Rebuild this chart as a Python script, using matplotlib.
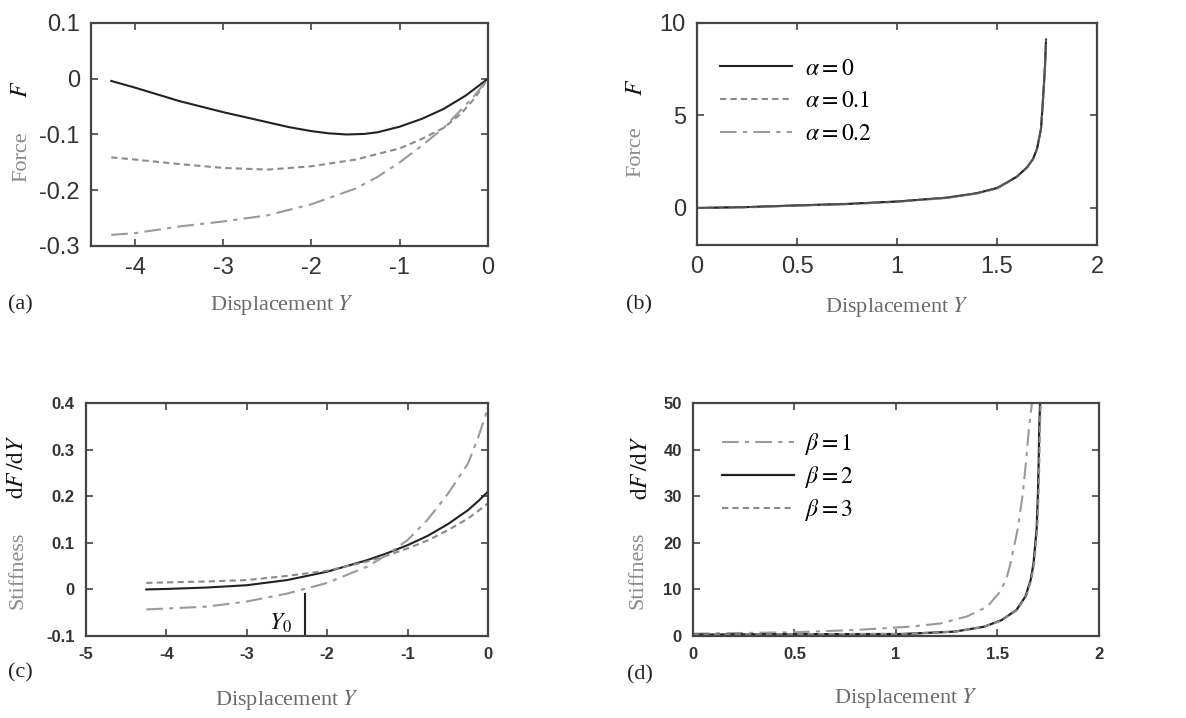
import matplotlib
matplotlib.use("Agg")
import matplotlib.pyplot as plt

plt.rcParams['font.family'] = ['Liberation Sans', 'DejaVu Sans']
plt.rcParams['mathtext.fontset'] = 'stix'

# ---- data ----
# (a) force vs displacement, alpha = 0, 0.1, 0.2
a_x0 = [-4.27, -4.0, -3.5, -3.0, -2.5, -2.25, -2.0, -1.8, -1.6, -1.4, -1.25, -1.0, -0.75, -0.5, -0.25, 0.0]
a_y0 = [-0.004, -0.016, -0.04, -0.06, -0.078, -0.087, -0.094, -0.098, -0.1, -0.099, -0.096, -0.086, -0.072, -0.054, -0.03, 0.0]
a_x1 = [-4.27, -4.0, -3.5, -3.0, -2.5, -2.0, -1.5, -1.0, -0.75, -0.5, -0.3, -0.15, 0.0]
a_y1 = [-0.141, -0.145, -0.153, -0.16, -0.163, -0.157, -0.145, -0.125, -0.108, -0.088, -0.062, -0.035, 0.0]
a_x2 = [-4.27, -4.0, -3.5, -3.0, -2.5, -2.0, -1.5, -1.25, -1.0, -0.75, -0.5, -0.3, -0.15, 0.0]
a_y2 = [-0.28, -0.277, -0.265, -0.256, -0.245, -0.225, -0.197, -0.176, -0.15, -0.12, -0.088, -0.055, -0.03, 0.0]

# (b) force, curves overlap
b_x = [0.0, 0.25, 0.5, 0.75, 1.0, 1.25, 1.4, 1.5, 1.55, 1.6, 1.65, 1.68, 1.7, 1.72, 1.73, 1.74, 1.745]
b_y0 = [0.0, 0.05, 0.14, 0.22, 0.35, 0.56, 0.8, 1.08, 1.38, 1.7, 2.2, 2.65, 3.2, 4.3, 5.9, 7.7, 9.1]
b_y1 = [0.0, 0.04, 0.13, 0.21, 0.34, 0.55, 0.79, 1.07, 1.37, 1.69, 2.19, 2.64, 3.2, 4.3, 5.9, 7.7, 9.1]
b_y2 = [0.0, 0.03, 0.12, 0.2, 0.33, 0.54, 0.78, 1.06, 1.36, 1.68, 2.18, 2.63, 3.2, 4.3, 5.9, 7.7, 9.1]

# (c) stiffness, same three curves
c_x = [-4.25, -4.0, -3.5, -3.0, -2.5, -2.0, -1.5, -1.25, -1.0, -0.75, -0.5, -0.25, -0.125, 0.0]
c_y0 = [0.0, 0.001, 0.004, 0.009, 0.02, 0.038, 0.063, 0.078, 0.095, 0.115, 0.14, 0.17, 0.189, 0.21]
c_y1 = [0.014, 0.015, 0.017, 0.02, 0.029, 0.04, 0.06, 0.073, 0.088, 0.105, 0.127, 0.152, 0.168, 0.185]
c_y2 = [-0.043, -0.041, -0.037, -0.026, -0.009, 0.014, 0.049, 0.075, 0.106, 0.15, 0.205, 0.27, 0.325, 0.39]
y0_pos = -2.28
y0_top = -0.009

# (d) stiffness, beta = 1, 2, 3
d_x1 = [0.0, 0.5, 0.8, 1.07, 1.22, 1.35, 1.45, 1.507, 1.543, 1.565, 1.6, 1.623, 1.64, 1.655, 1.67]
d_y1 = [0.5, 0.8, 1.3, 2.0, 2.7, 4.2, 6.3, 9.2, 12.1, 15.7, 23.0, 30.0, 37.0, 44.6, 50.0]
d_x2 = [0.0, 0.5, 1.03, 1.29, 1.435, 1.52, 1.594, 1.638, 1.664, 1.678, 1.693, 1.699, 1.703, 1.706, 1.71]
d_y2 = [0.3, 0.4, 0.43, 0.94, 2.0, 3.4, 5.6, 8.5, 12.1, 15.7, 23.0, 30.0, 37.0, 44.6, 50.0]
d_x3 = [0.0, 0.5, 1.03, 1.29, 1.437, 1.523, 1.597, 1.641, 1.667, 1.681, 1.696, 1.702, 1.706, 1.709, 1.713]
d_y3 = [0.3, 0.4, 0.43, 0.94, 2.0, 3.4, 5.6, 8.5, 12.1, 15.7, 23.0, 30.0, 37.0, 44.6, 50.0]

BLACK = '#222222'
GRAY1 = '#8a8a8a'
GRAY2 = '#9a9a9a'
SERIF = 'Liberation Serif'


def style_axes(ax, tick_size, bold=False):
    ax.tick_params(direction='in', top=True, right=True, length=5, width=1.2,
                   labelsize=tick_size, colors='#444444', pad=8)
    for lab in ax.get_xticklabels() + ax.get_yticklabels():
        lab.set_fontweight('bold' if bold else 'normal')
        lab.set_color('#333333')
    for s in ax.spines.values():
        s.set_linewidth(1.6)
        s.set_color('#444444')


def labels(ax, word, sym, wx, wy, sx, sy, xlx, xly):
    ax.text(wx, wy, word, transform=ax.transAxes, rotation=90, ha='center', va='center',
            fontsize=16, family=SERIF, color='#8a8a8a')
    ax.text(sx, sy, sym, transform=ax.transAxes, rotation=90, ha='center', va='center',
            fontsize=17, family=SERIF, color='#111111')
    ax.text(xlx, xly, 'Displacement $Y$', transform=ax.transAxes, ha='center', va='center',
            fontsize=16, family=SERIF, color='#6a6a6a')


fig = plt.figure(figsize=(11.86, 7.18), dpi=100)

# (a)
ax = fig.add_axes([0.0767, 0.6574, 0.3347, 0.3106])
ax.plot(a_x0, a_y0, color=BLACK, lw=1.5, ls='-')
ax.plot(a_x1, a_y1, color=GRAY1, lw=1.5, ls=(0, (3, 2)))
ax.plot(a_x2, a_y2, color=GRAY2, lw=1.5, ls=(0, (8, 3, 2, 3)))
ax.set_xlim(-4.5, 0)
ax.set_ylim(-0.3, 0.1)
ax.set_xticks([-4, -3, -2, -1, 0])
ax.set_yticks([-0.3, -0.2, -0.1, 0, 0.1])
ax.set_yticklabels(['-0.3', '-0.2', '-0.1', '0', '0.1'])
ax.set_xticklabels(['-4', '-3', '-2', '-1', '0'])
style_axes(ax, 17)
labels(ax, 'Force', '$F$', -0.174, 0.40, -0.174, 0.70, 0.48, -0.265)

# (b)
ax = fig.add_axes([0.5877, 0.6588, 0.3373, 0.3092])
ax.plot(b_x, b_y0, color=BLACK, lw=1.5, ls='-', label=r'$\alpha = 0$')
ax.plot(b_x, b_y1, color=GRAY1, lw=1.5, ls=(0, (3, 2)), label=r'$\alpha = 0.1$')
ax.plot(b_x, b_y2, color=GRAY2, lw=1.5, ls=(0, (8, 3, 2, 3)), label=r'$\alpha = 0.2$')
ax.plot(b_x, b_y0, color=BLACK, lw=1.3, ls='-', alpha=0.6)
ax.set_xlim(0, 2)
ax.set_ylim(-2, 10)
ax.set_xticks([0, 0.5, 1, 1.5, 2])
ax.set_xticklabels(['0', '0.5', '1', '1.5', '2'])
ax.set_yticks([0, 5, 10])
style_axes(ax, 17)
ax.legend(loc='upper left', bbox_to_anchor=(0.005, 0.94), frameon=False, fontsize=17,
          handlelength=3.05, handletextpad=0.55, labelspacing=0.45)
labels(ax, 'Force', '$F$', -0.152, 0.42, -0.152, 0.71, 0.50, -0.28)

# (c)
ax = fig.add_axes([0.0725, 0.1142, 0.339, 0.3245])
ax.plot(c_x, c_y0, color=BLACK, lw=1.5, ls='-')
ax.plot(c_x, c_y1, color=GRAY1, lw=1.5, ls=(0, (3, 2)))
ax.plot(c_x, c_y2, color=GRAY2, lw=1.5, ls=(0, (8, 3, 2, 3)))
ax.plot([y0_pos, y0_pos], [-0.1, y0_top], color=BLACK, lw=1.5)
ax.text(y0_pos - 0.3, -0.072, '$Y_0$', ha='center', va='center', fontsize=17, color='#111111')
ax.set_xlim(-5, 0)
ax.set_ylim(-0.1, 0.4)
ax.set_xticks([-5, -4, -3, -2, -1, 0])
ax.set_xticklabels(['-5', '-4', '-3', '-2', '-1', '0'])
ax.set_yticks([-0.1, 0, 0.1, 0.2, 0.3, 0.4])
ax.set_yticklabels(['-0.1', '0', '0.1', '0.2', '0.3', '0.4'])
style_axes(ax, 12, bold=True)
labels(ax, 'Stiffness', '$\\mathrm{d}F\\,/\\mathrm{d}Y$', -0.17, 0.283, -0.17, 0.725, 0.50, -0.275)

# (d)
ax = fig.add_axes([0.5843, 0.1142, 0.3423, 0.3245])
ax.plot(d_x1, d_y1, color=GRAY2, lw=1.5, ls=(0, (8, 3, 2, 3)), label=r'$\beta = 1$')
ax.plot(d_x2, d_y2, color=BLACK, lw=1.6, ls='-', label=r'$\beta = 2$')
ax.plot(d_x3, d_y3, color=GRAY1, lw=1.5, ls=(0, (3, 2)), label=r'$\beta = 3$')
ax.set_xlim(0, 2)
ax.set_ylim(0, 50)
ax.set_xticks([0, 0.5, 1, 1.5, 2])
ax.set_xticklabels(['0', '0.5', '1', '1.5', '2'])
ax.set_yticks([0, 10, 20, 30, 40, 50])
style_axes(ax, 12, bold=True)
ax.legend(loc='upper left', bbox_to_anchor=(0.02, 0.97), frameon=False, fontsize=17,
          handlelength=3.05, handletextpad=0.45, labelspacing=0.3)
labels(ax, 'Stiffness', '$\\mathrm{d}F\\,/\\mathrm{d}Y$', -0.135, 0.283, -0.128, 0.72, 0.525, -0.266)

# panel letters
for txt, px, py in [('(a)', 20, 305), ('(b)', 639, 305), ('(c)', 20, 673), ('(d)', 640, 675)]:
    fig.text(px / 1186, 1 - py / 718, txt, ha='center', va='center', fontsize=16,
             family=SERIF, color='#222222')

fig.savefig('out.png', dpi=100)
